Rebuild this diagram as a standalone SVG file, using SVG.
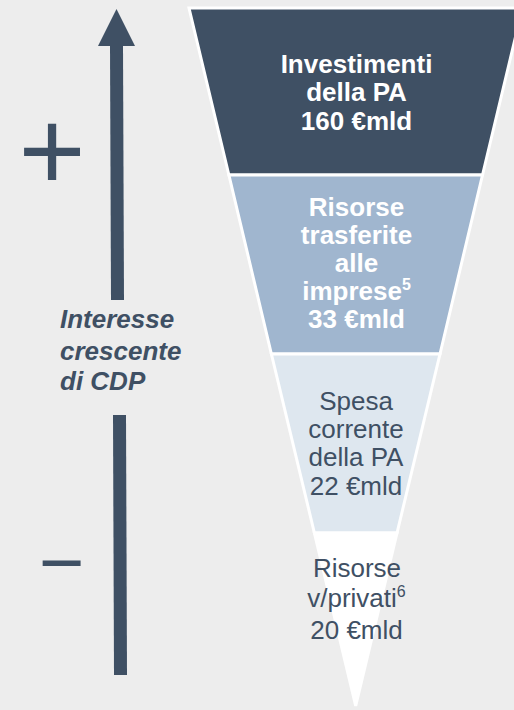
<svg xmlns="http://www.w3.org/2000/svg" width="514" height="710" viewBox="0 0 514 710">
<style>
.bg{fill:#ededed}
.seg{stroke:#ffffff;stroke-width:3;stroke-linejoin:miter}
.t{font-family:"Liberation Sans",Arial,sans-serif;font-size:26px;text-anchor:middle}
.tb{font-weight:bold;fill:#ffffff}
.td{fill:#3f5064}
.sup{font-size:16px}
.side{font-family:"Liberation Sans",Arial,sans-serif;font-size:26px;font-weight:bold;font-style:italic;fill:#3f5064}
.sign{font-family:"Liberation Sans",Arial,sans-serif;fill:#3f5064;text-anchor:middle}
.arrow{fill:#3f5064}
</style>
<rect class="bg" x="0" y="0" width="514" height="710"/>
<g id="connectors">
  <g id="scale-arrow">
    <polygon class="arrow" points="116.5,9 98,46 135,46"/>
    <polygon class="arrow" points="110,45 123,45 124,300 111,300"/>
    <polygon class="arrow" points="113,415 126,415 127,675 114,675"/>
  </g>
</g>
<g id="label-more"><text class="sign" x="52" y="190" font-size="115">+</text></g>
<g id="label-less"><text class="sign" x="61.5" y="589" font-size="78">−</text></g>
<g id="label-interest">
  <text class="side" x="60" y="328">Interesse</text>
  <text class="side" x="60" y="360">crescente</text>
  <text class="side" x="60" y="390">di CDP</text>
</g>
<g id="seg-investimenti">
  <polygon class="seg" fill="#3f5064" points="189,8 522.4,8 482.5,175 228.9,175"/>
  <text class="t tb" x="356.5" y="73">Investimenti</text>
  <text class="t tb" x="356.5" y="101">della PA</text>
  <text class="t tb" x="356.5" y="130">160 €mld</text>
</g>
<g id="seg-risorse-imprese">
  <polygon class="seg" fill="#a0b6cf" points="228.9,175 482.5,175 440,354 271.4,354"/>
  <text class="t tb" x="356.5" y="216">Risorse</text>
  <text class="t tb" x="356.5" y="244">trasferite</text>
  <text class="t tb" x="356.5" y="272">alle</text>
  <text class="t tb" x="356.5" y="300">imprese<tspan class="sup" dy="-10">5</tspan></text>
  <text class="t tb" x="356.5" y="328">33 €mld</text>
</g>
<g id="seg-spesa-corrente">
  <polygon class="seg" fill="#dee7ef" points="271.4,354 440,354 397,533 314.4,533"/>
  <text class="t td" x="356" y="410">Spesa</text>
  <text class="t td" x="356" y="438">corrente</text>
  <text class="t td" x="356" y="466">della PA</text>
  <text class="t td" x="356" y="495">22 €mld</text>
</g>
<g id="seg-risorse-privati">
  <polygon class="seg" fill="#ffffff" points="314.4,533 397,533 355.7,706"/>
  <text class="t td" x="357" y="577">Risorse</text>
  <text class="t td" x="356.5" y="607">v/privati<tspan class="sup" dy="-10">6</tspan></text>
  <text class="t td" x="356.5" y="639">20 €mld</text>
</g>
</svg>
